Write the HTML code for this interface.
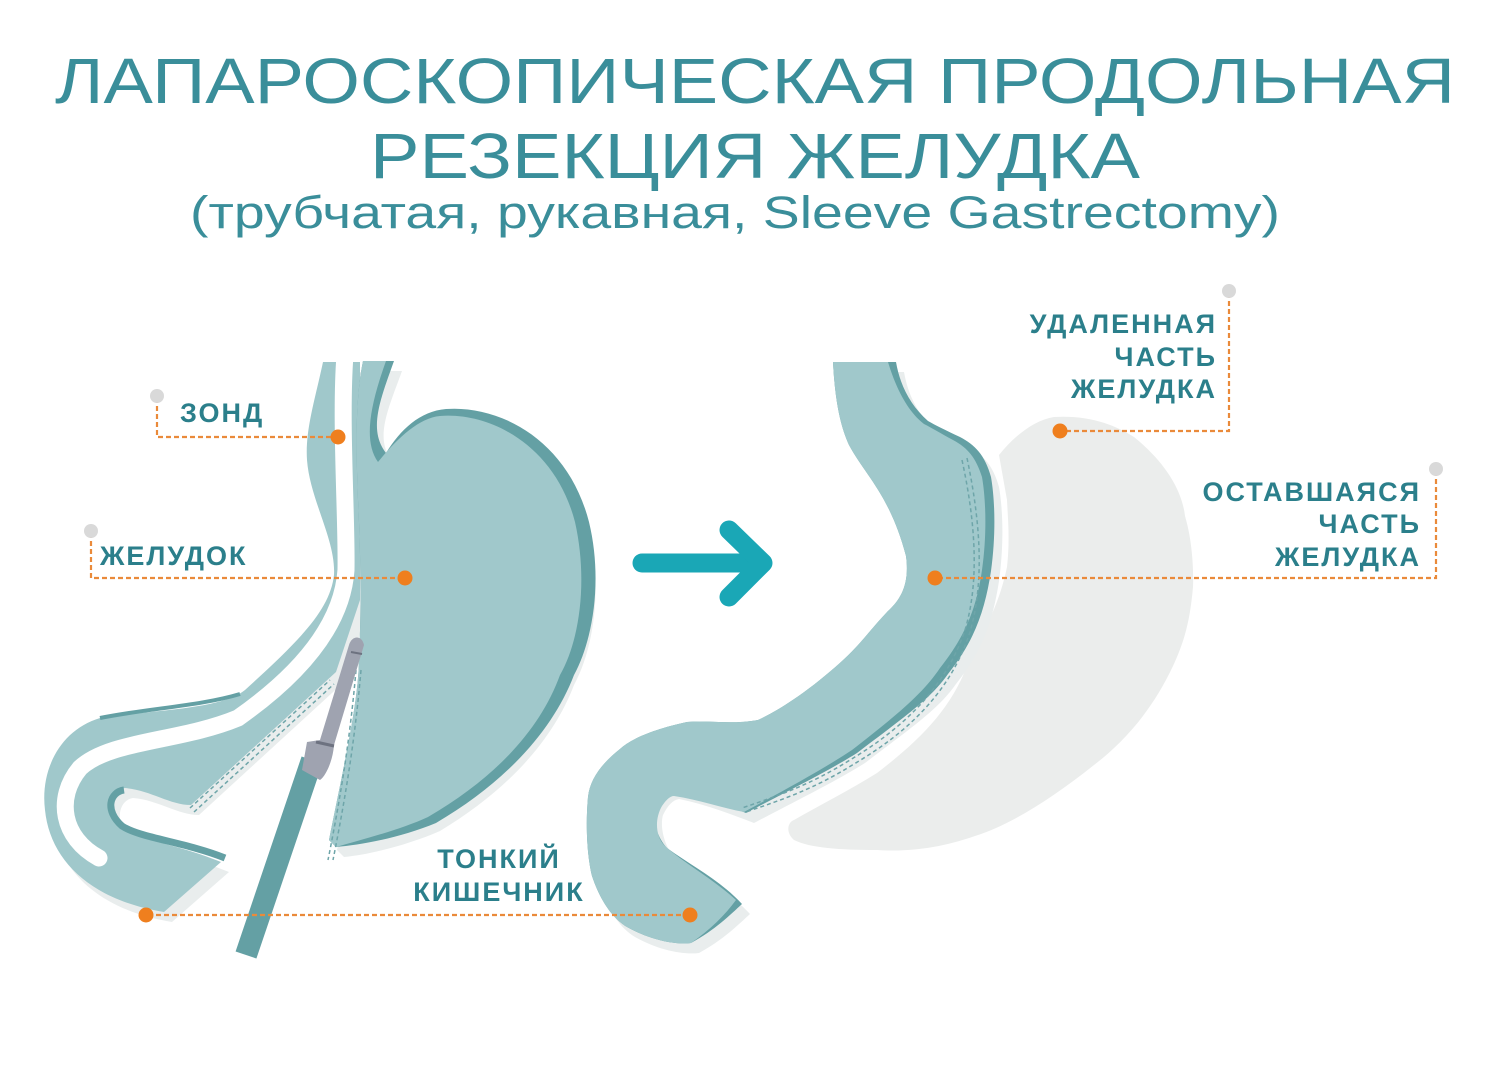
<!DOCTYPE html>
<html><head><meta charset="utf-8"><style>
html,body{margin:0;padding:0;background:#fff;}
svg{display:block;}
.t{font-family:"Liberation Sans",sans-serif;fill:#3a8e9a;}
.l{font-family:"Liberation Sans",sans-serif;font-weight:bold;font-size:27px;fill:#2b7f8b;letter-spacing:2px;}
</style></head><body>
<svg width="1505" height="1068" viewBox="0 0 1505 1068" xmlns="http://www.w3.org/2000/svg">
<text class="t" x="55" y="103" font-size="64" textLength="1400" lengthAdjust="spacingAndGlyphs">ЛАПАРОСКОПИЧЕСКАЯ ПРОДОЛЬНАЯ</text>
<text class="t" x="370" y="178" font-size="64" textLength="770" lengthAdjust="spacingAndGlyphs">РЕЗЕКЦИЯ ЖЕЛУДКА</text>
<text class="t" x="190" y="228" font-size="45" textLength="1090" lengthAdjust="spacingAndGlyphs">(трубчатая, рукавная, Sleeve Gastrectomy)</text>

<!-- LEFT: shadows -->
<g fill="#e9eded" transform="translate(8,10)">
<path d="M323,362 C315,400 305,430 307,460 C310,500 336,540 334,575 C330,610 300,640 245,690 C220,710 150,710 100,718 C60,730 40,770 45,810 C50,860 90,900 164,912 L221,862 C180,845 140,840 125,830 C105,815 110,790 125,788 C150,790 170,805 191,805 L336,672 L360,600 L360,362 Z"/>
<path d="M363,361 L394,361 C380,400 365,430 386,453 C400,430 420,411 440,411 C490,405 560,440 581,522 C595,580 585,640 566,675 C545,730 500,780 432,821 C400,835 360,845 336,847 L329,840 C345,760 359,700 359,656 Z"/>
</g>
<!-- left tube -->
<path fill="#a0c8cb" d="M323,362 C315,400 305,430 307,460 C310,500 336,540 334,575 C330,610 300,640 245,690 C220,710 150,710 100,718 C60,730 40,770 45,810 C50,860 90,900 164,912 L221,862 C180,845 140,840 125,830 C105,815 110,790 125,788 C150,790 170,805 191,805 L336,672 L360,600 L360,362 Z"/>
<path fill="none" stroke="#64a0a4" stroke-width="7" d="M225,858 C185,842 140,838 122,826 C104,810 110,792 124,790"/>
<path fill="none" stroke="#64a0a4" stroke-width="4" d="M100,718 C150,708 200,706 240,694"/>
<path fill="none" stroke="#fff" stroke-width="17" stroke-linecap="round" d="M345,355 C340,420 347,520 346,570 C342,630 292,680 238,718 C180,742 110,740 80,768 C55,798 62,838 99,858"/>
<!-- left body -->
<path fill="#64a0a4" d="M370,361 L394,361 C380,400 368,430 386,453 C400,430 420,411 446,409 C500,405 568,440 589,522 C603,580 593,640 574,675 C553,730 506,782 436,823 C400,838 360,845 336,847 L329,840 C345,760 359,700 359,656 C362,600 360,540 358,500 C356,450 355,400 363,361 Z"/>
<path fill="#a0c8cb" d="M363,361 L386,361 C372,400 362,440 378,462 C396,440 418,418 440,416 C490,412 555,445 575,522 C588,580 580,640 560,675 C540,730 495,778 428,817 C400,830 360,840 336,847 L329,840 C345,760 359,700 359,656 C362,600 360,540 358,500 C356,450 355,400 363,361 Z"/>
<path fill="none" stroke="#6ea5a9" stroke-width="1.5" stroke-dasharray="4,3" d="M361,670 C355,740 345,800 333,860 M356,670 C350,740 340,800 328,860"/>
<path fill="none" stroke="#6ea5a9" stroke-width="1.5" stroke-dasharray="4,3" d="M190,808 L330,680 M194,812 L334,684"/>
<!-- stapler -->
<line x1="246" y1="955" x2="312" y2="760" stroke="#64a0a4" stroke-width="22"/>
<path fill="#9fa3b0" d="M302,770 L307,742 L320,740 L349,645 C352,635 362,635 364,645 L334,745 C333,760 326,776 320,780 Z"/>
<path d="M316,742 L334,746" stroke="#6d7280" stroke-width="3"/>
<path d="M351,652 L362,654" stroke="#6d7280" stroke-width="2"/>

<!-- RIGHT removed part -->
<path fill="#ebedec" d="M999,455 C1015,435 1035,420 1054,417 C1090,415 1115,425 1134,437 C1165,462 1182,490 1185,516 C1195,550 1193,587 1193,587 C1190,620 1185,640 1173,666 C1150,715 1120,745 1094,765 C1050,800 1010,825 975,836 C940,848 910,852 877,850 C840,850 810,848 794,840 C785,832 788,822 794,820 C820,805 850,790 877,773 C920,740 950,710 967,666 C990,620 1000,600 1007,567 C1010,540 1008,520 1007,500 Z"/>
<!-- sleeve shadow -->
<path fill="#e9eded" transform="translate(8,10)" d="M833,362 C835,400 840,425 849,445 C865,475 890,495 906,556 C910,585 900,600 888,611 C870,630 860,645 841,662 C810,690 780,710 758,720 C730,725 710,720 687,722 C650,730 630,740 620,749 C600,765 590,780 588,797 C585,830 588,860 592,876 C600,900 612,918 627,927 C650,940 675,945 691,943 C715,930 730,915 742,904 C720,880 690,865 667,848 C655,835 652,815 655,805 C660,795 665,790 671,789 C700,795 725,805 746,813 C790,790 830,770 857,753 C900,720 930,700 948,674 C975,640 985,610 991,571 C996,535 995,500 991,477 C985,455 975,445 960,437 C945,430 935,425 928,421 C910,405 900,385 896,362 Z"/>
<path fill="#64a0a4" d="M833,362 C835,400 840,425 849,445 C865,475 890,495 906,556 C910,585 900,600 888,611 C870,630 860,645 841,662 C810,690 780,710 758,720 C730,725 710,720 687,722 C650,730 630,740 620,749 C600,765 590,780 588,797 C585,830 588,860 592,876 C600,900 612,918 627,927 C650,940 675,945 691,943 C715,930 730,915 742,904 C720,880 690,865 667,848 C655,835 652,815 655,805 C660,795 665,790 671,789 C700,795 725,805 746,813 C790,790 830,770 857,753 C900,720 930,700 948,674 C975,640 985,610 991,571 C996,535 995,500 991,477 C985,455 975,445 960,437 C945,430 935,425 928,421 C910,405 900,385 896,362 Z"/>
<path fill="#a0c8cb" d="M833,362 C835,400 840,425 849,445 C865,475 890,495 906,556 C910,585 900,600 888,611 C870,630 860,645 841,662 C810,690 780,710 758,720 C730,725 710,720 687,722 C650,730 630,740 620,749 C600,765 590,780 588,797 C585,830 588,860 592,876 C600,900 612,918 627,927 C650,940 675,945 691,943 C710,930 725,915 736,900 C712,878 682,862 664,845 C655,835 655,818 662,806 C666,800 670,796 674,796 C700,800 722,808 744,812 C785,790 825,768 852,750 C893,718 922,695 940,668 C967,634 977,605 982,570 C987,535 986,500 982,477 C976,458 968,448 953,440 C940,433 932,428 924,424 C906,410 895,385 888,362 Z"/>
<path fill="none" stroke="#6ea5a9" stroke-width="1.5" stroke-dasharray="4,3" d="M962,460 C975,520 980,580 965,630 C945,690 900,730 850,760 C810,785 780,795 742,808 M967,458 C980,520 985,580 970,632 C950,694 905,734 854,764 C814,789 784,799 746,812"/>

<!-- arrow -->
<g stroke="#1aa7b6" stroke-width="19" stroke-linecap="round" stroke-linejoin="round" fill="none">
<line x1="642" y1="563" x2="762" y2="563"/>
<polyline points="729,530 763,563 729,597"/>
</g>

<!-- leader lines -->
<g stroke="#ea8a3a" stroke-width="2.2" stroke-dasharray="5,3" fill="none">
<polyline points="157,398 157,437 336,437"/>
<polyline points="91,533 91,578 403,578"/>
<line x1="148" y1="915" x2="688" y2="915"/>
<polyline points="1229,293 1229,431 1062,431"/>
<polyline points="1436,471 1436,578 937,578"/>
</g>
<g fill="#d9d9d9">
<circle cx="157" cy="396" r="7"/><circle cx="91" cy="531" r="7"/><circle cx="1229" cy="291" r="7"/><circle cx="1436" cy="469" r="7"/>
</g>
<g fill="#ef7f1e">
<circle cx="338" cy="437" r="7.5"/><circle cx="405" cy="578" r="7.5"/><circle cx="146" cy="915" r="7.5"/><circle cx="690" cy="915" r="7.5"/><circle cx="1060" cy="431" r="7.5"/><circle cx="935" cy="578" r="7.5"/>
</g>

<!-- labels -->
<text class="l" x="180" y="422">ЗОНД</text>
<text class="l" x="100" y="565">ЖЕЛУДОК</text>
<text class="l" x="499" y="868" text-anchor="middle">ТОНКИЙ</text>
<text class="l" x="499" y="901" text-anchor="middle">КИШЕЧНИК</text>
<g text-anchor="end">
<text class="l" x="1217" y="333">УДАЛЕННАЯ</text>
<text class="l" x="1217" y="366">ЧАСТЬ</text>
<text class="l" x="1217" y="398">ЖЕЛУДКА</text>
<text class="l" x="1421" y="501">ОСТАВШАЯСЯ</text>
<text class="l" x="1421" y="533">ЧАСТЬ</text>
<text class="l" x="1421" y="566">ЖЕЛУДКА</text>
</g>
</svg>
</body></html>
